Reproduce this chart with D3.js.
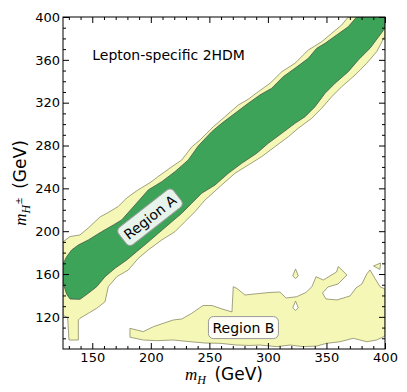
<!DOCTYPE html>
<html>
<head>
<meta charset="utf-8">
<script src="https://cdn.jsdelivr.net/npm/d3@7"></script>
<style>
  body { margin: 0; background: #fff; }
  svg { display: block; }
</style>
</head>
<body>
<svg id="chart" width="407" height="392"></svg>
<script>
// contour outlines, [m_H, m_H±] in GeV
const bandOuter = [
  [125, 190], [131, 195], [139.5, 196.5], [146.6, 203], [156.6, 213.3], [163.4, 217.3],
  [172, 222.9], [179.4, 231], [189, 238.5], [199.3, 245.3], [206.1, 250.9], [216.4, 259],
  [226.4, 266.5], [234.9, 278.6], [242, 285.2], [253.4, 297.6], [263.3, 306.9], [274.7, 317.8],
  [283.2, 323.2], [291.8, 330.3], [301.8, 338.1], [311.8, 348.9], [323.1, 356.8], [334.5, 369.2],
  [345.9, 376.9], [354.5, 384.8], [363, 392.5], [368.6, 400], [400, 400], [400, 382.3],
  [392.9, 367.6], [384.4, 356.8], [374.4, 345.8], [363, 334.9], [354.5, 325.6], [345.9, 314.8],
  [337.4, 305.4], [325.9, 296.1], [317.4, 288.2], [306, 278.9], [294.7, 269.6], [283.2, 261.8],
  [271.9, 254.1], [260.5, 243.1], [246.3, 229.1], [237.7, 218.2], [229.2, 208.9], [220.6, 199.5],
  [209.3, 191.8], [197.8, 182.5], [189.3, 174.7], [180.8, 163.8], [170.9, 157.5], [163.7, 148.2],
  [160.9, 134.2], [153.8, 128], [146.6, 123.3], [139.5, 118.7], [138.1, 117.1], [138.1, 98.4],
  [130.1, 98.4], [129, 119], [125, 121.8]
];

const bandInner = [
  [125, 169.4], [128, 176], [132.4, 182.5], [138.1, 187.1], [146.6, 191.8], [158, 199.5],
  [168, 205.8], [175.1, 210.5], [186.5, 224.5], [197.8, 238.5], [209.3, 246.2], [220.6, 255.6],
  [232, 266.5], [240.5, 279.6], [252, 292.9], [260.5, 300.7], [271.9, 310.1], [283.2, 319.4],
  [293.2, 327.2], [303.2, 333.4], [313.1, 344.3], [323.1, 352.1], [334.5, 361.4], [341.7, 370.8],
  [348.8, 375.4], [358.7, 383.2], [368.6, 390.9], [375.8, 400], [400, 400], [400, 389.7],
  [395.7, 383.2], [387.2, 370.8], [377.2, 359.9], [368.6, 348.9], [357.3, 338.1], [348.8, 328.8],
  [340.2, 316.2], [331.7, 306.9], [323.1, 300.7], [311.8, 291.4], [300.3, 282.1], [290.4, 272.7],
  [277.6, 263.4], [266.2, 254.1], [254.8, 243.1], [243.4, 235.4], [234.9, 226.1], [226.4, 216.7],
  [216.4, 207.4], [206.4, 198], [196.5, 188.7], [187.9, 180.9], [179.4, 173.1], [169.4, 165.4],
  [160.9, 157.5], [153.8, 148.2], [146.6, 142], [139.5, 136.4], [131, 136.7], [128, 141.4],
  [125.9, 148.8], [125, 154.4]
];

const regionB = [
  [182.2, 109.3], [193.6, 106.2], [202.1, 110.8], [210.7, 114], [219.2, 117.1], [226.4, 118],
  [234.9, 123.3], [244.6, 130.6], [252.2, 130.6], [260.8, 127.4], [269.3, 124.6], [270.4, 148.2],
  [273.6, 146.5], [280.4, 140.4], [290.4, 141.6], [301.8, 142.8], [310.3, 143.2], [315.4, 137.6],
  [324.6, 138.8], [332.5, 142.8], [337.6, 148.2], [341.1, 157.5], [347.3, 154.4], [358.6, 161.9],
  [360.1, 167], [367.5, 159.1], [359.9, 150.7], [351.3, 147.9], [346.6, 142.3], [349.6, 136.7],
  [359, 135.8], [370.1, 139.5], [375.2, 147], [380.3, 150.7], [384.4, 160], [387.2, 163.8],
  [391.4, 156], [395.7, 148.2], [400, 146], [400, 102.1], [392.9, 98.4], [384.4, 96.8],
  [372.9, 100], [361.6, 96.8], [350.2, 95.3], [341.7, 92.8], [330.2, 92.2], [318.9, 93.7],
  [307.5, 92.2], [293.2, 93.7], [284.7, 93.3], [273.3, 93.7], [259.1, 95.3], [246.3, 95.6],
  [233.5, 96.8], [219.2, 98.4], [205, 97.8], [193.6, 98.4], [182.2, 101]
];

const dropB = [[323.6, 164.7], [326, 158.2], [323.6, 155.8], [321.2, 158.2]];
const holeB = [[323.6, 134.8], [326, 128.3], [323.6, 126], [321.2, 128.3]];
const blobB = [[390.2, 167.5], [396.2, 170.3], [395.7, 164.3]];

const xMajor = [150, 200, 250, 300, 350, 400];
const yMajor = [120, 160, 200, 240, 280, 320, 360, 400];
const xMinor = d3.range(130, 401, 10).filter(v => v % 50 !== 0);
const yMinor = d3.range(100, 401, 10).filter(v => v % 40 !== 0);

const labels = [
  { text: "Region A", x: 199.3, y: 213, angle: -38 },
  { text: "Region B", x: 279.1, y: 110, angle: 0 }
];

const svg = d3.select("#chart");
const margin = { left: 63, right: 22, top: 17, bottom: 43 };
const W = 407, H = 392;

const x = d3.scaleLinear().domain([125, 400]).range([margin.left, W - margin.right]);
const y = d3.scaleLinear().domain([90, 400]).range([H - margin.bottom, margin.top]);

svg.append("clipPath").attr("id", "plotclip")
  .append("rect")
  .attr("x", x(125)).attr("y", y(400))
  .attr("width", x(400) - x(125)).attr("height", y(90) - y(400));

const line = d3.line().x(d => x(d[0])).y(d => y(d[1]));
const shape = pts => line(pts) + "Z";

const plot = svg.append("g").attr("clip-path", "url(#plotclip)");

const yellow = "#f5f7b6", green = "#3da358";

plot.append("path").attr("d", shape(bandOuter))
  .attr("fill", yellow).attr("stroke", "#8a8a66").attr("stroke-width", 0.8);
plot.append("path").attr("d", shape(bandInner))
  .attr("fill", green).attr("stroke", "#44574a").attr("stroke-width", 0.8);
plot.append("path").attr("d", shape(regionB))
  .attr("fill", yellow).attr("stroke", "#8a8a66").attr("stroke-width", 0.8);
plot.append("path").attr("d", shape(dropB))
  .attr("fill", yellow).attr("stroke", "#8a8a66").attr("stroke-width", 0.8);
plot.append("path").attr("d", shape(blobB))
  .attr("fill", yellow).attr("stroke", "#8a8a66").attr("stroke-width", 0.8);
plot.append("path").attr("d", shape(holeB))
  .attr("fill", "#fff").attr("stroke", "#8a8a66").attr("stroke-width", 0.8);

// boxed region labels
labels.forEach(l => {
  const g = svg.append("g")
    .attr("transform", `translate(${x(l.x)},${y(l.y)}) rotate(${l.angle})`);
  const box = g.append("rect");
  const t = g.append("text")
    .attr("text-anchor", "middle")
    .attr("dy", "0.36em")
    .style("font-family", "DejaVu Sans")
    .style("font-size", "14px")
    .text(l.text);
  const w = t.node().getComputedTextLength();
  box.attr("x", -w / 2 - 4).attr("y", -11)
    .attr("width", w + 8).attr("height", 22)
    .attr("rx", 5)
    .attr("fill", "#fff").attr("fill-opacity", 0.88)
    .attr("stroke", "#999").attr("stroke-width", 1);
});

svg.append("text")
  .attr("x", x(150)).attr("y", y(360))
  .style("font-family", "DejaVu Sans")
  .style("font-size", "14px")
  .text("Lepton-specific 2HDM");

// axes, ticks pointing inward on all four sides
function styleAxis(g) {
  g.select(".domain").remove();
  g.selectAll("text").style("font-family", "DejaVu Sans").style("font-size", "13px").attr("fill", "#000");
  g.selectAll("line").attr("stroke", "#000");
}

svg.append("g").attr("transform", `translate(0,${y(90)})`)
  .call(d3.axisBottom(x).tickValues(xMajor).tickSize(-6).tickPadding(4).tickFormat(d3.format("d")))
  .call(styleAxis);
svg.append("g").attr("transform", `translate(0,${y(90)})`)
  .call(d3.axisBottom(x).tickValues(xMinor).tickSize(-3).tickFormat(""))
  .call(styleAxis);
svg.append("g").attr("transform", `translate(0,${y(400)})`)
  .call(d3.axisTop(x).tickValues(xMajor).tickSize(-6).tickFormat(""))
  .call(styleAxis);
svg.append("g").attr("transform", `translate(0,${y(400)})`)
  .call(d3.axisTop(x).tickValues(xMinor).tickSize(-3).tickFormat(""))
  .call(styleAxis);

svg.append("g").attr("transform", `translate(${x(125)},0)`)
  .call(d3.axisLeft(y).tickValues(yMajor).tickSize(-6).tickPadding(3).tickFormat(d3.format("d")))
  .call(styleAxis);
svg.append("g").attr("transform", `translate(${x(125)},0)`)
  .call(d3.axisLeft(y).tickValues(yMinor).tickSize(-3).tickFormat(""))
  .call(styleAxis);
svg.append("g").attr("transform", `translate(${x(400)},0)`)
  .call(d3.axisRight(y).tickValues(yMajor).tickSize(-6).tickFormat(""))
  .call(styleAxis);
svg.append("g").attr("transform", `translate(${x(400)},0)`)
  .call(d3.axisRight(y).tickValues(yMinor).tickSize(-3).tickFormat(""))
  .call(styleAxis);

svg.append("rect")
  .attr("x", x(125)).attr("y", y(400))
  .attr("width", x(400) - x(125)).attr("height", y(90) - y(400))
  .attr("fill", "none").attr("stroke", "#000").attr("stroke-width", 1);

// axis titles
const xt = svg.append("text")
  .attr("x", (x(125) + x(400)) / 2).attr("y", 380)
  .attr("text-anchor", "middle")
  .style("font-size", "17px");
xt.append("tspan").style("font-family", "Liberation Serif").style("font-style", "italic").text("m");
xt.append("tspan").style("font-family", "Liberation Serif").style("font-style", "italic")
  .style("font-size", "12px").attr("dy", 4).text("H");
xt.append("tspan").style("font-family", "DejaVu Sans").attr("dy", -4).text("\u2002(GeV)");

const yt = svg.append("text")
  .attr("transform", `translate(26,${(y(90) + y(400)) / 2}) rotate(-90)`)
  .attr("text-anchor", "middle")
  .style("font-size", "17px");
yt.append("tspan").style("font-family", "Liberation Serif").style("font-style", "italic").text("m");
yt.append("tspan").style("font-family", "Liberation Serif").style("font-style", "italic")
  .style("font-size", "12px").attr("dy", 4).text("H");
yt.append("tspan").style("font-family", "DejaVu Sans")
  .style("font-size", "9px").attr("dy", -8).text("\u00b1");
yt.append("tspan").style("font-family", "DejaVu Sans").attr("dy", 4).text("\u2002(GeV)");
</script>
</body>
</html>
